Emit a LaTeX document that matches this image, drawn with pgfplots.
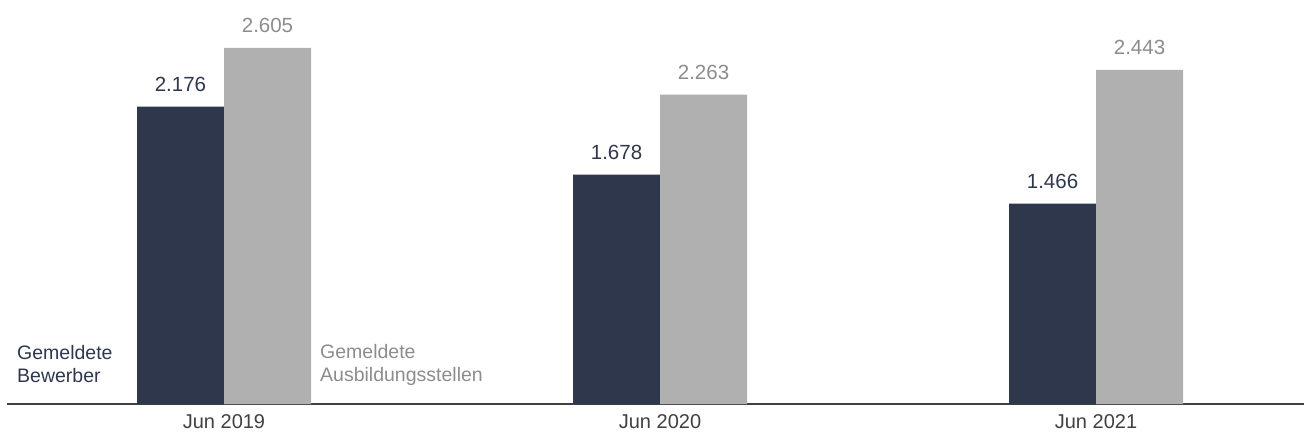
\documentclass[border=0pt]{standalone}
\usepackage{pgfplots}
\pgfplotsset{compat=1.18}
\usepackage{fontspec}
\setmainfont{Liberation Sans}
\definecolor{darkbar}{HTML}{2E374B}
\definecolor{graybar}{HTML}{B0B0B0}
\definecolor{graytext}{HTML}{8C8C8C}
\definecolor{axisgray}{HTML}{404040}
\begin{document}
\begin{tikzpicture}
\useasboundingbox (-7pt,-33pt) rectangle (1297pt,404pt);
\begin{axis}[
  at={(0pt,0pt)}, anchor=south west,
  scale only axis,
  width=1297pt, height=404pt,
  xmin=-0.4977, xmax=2.477,
  ymin=0, ymax=2955,
  ybar=0pt, bar width=87pt,
  axis y line=none,
  axis x line*=bottom,
  x axis line style={-, draw=axisgray, line width=1.6pt},
  xtick={0,1,2},
  xticklabels={Jun 2019, Jun 2020, Jun 2021},
  major tick length=0pt,
  xticklabel style={font=\fontsize{20}{23}\selectfont, text=axisgray, yshift=-6.5pt},
  point meta=explicit symbolic,
  nodes near coords,
  nodes near coords style={font=\fontsize{20.5}{23}\selectfont, anchor=base, inner sep=0pt, yshift=15.5pt},
  clip=false,
]
\addplot[fill=darkbar, draw=none, nodes near coords style={text=darkbar}] coordinates {(0,2176) [2.176] (1,1678) [1.678] (2,1466) [1.466]};
\addplot[fill=graybar, draw=none, nodes near coords style={text=graytext}] coordinates {(0,2605) [2.605] (1,2263) [2.263] (2,2443) [2.443]};
\node[anchor=west, align=left, inner sep=0pt, text=darkbar, font=\fontsize{19.5}{23}\selectfont] at (axis cs:-0.4748,289) {Gemeldete\\Bewerber};
\node[anchor=west, align=left, inner sep=0pt, text=graytext, font=\fontsize{19.5}{23}\selectfont] at (axis cs:0.2202,289) {Gemeldete\\Ausbildungsstellen};
\end{axis}
\end{tikzpicture}
\end{document}
